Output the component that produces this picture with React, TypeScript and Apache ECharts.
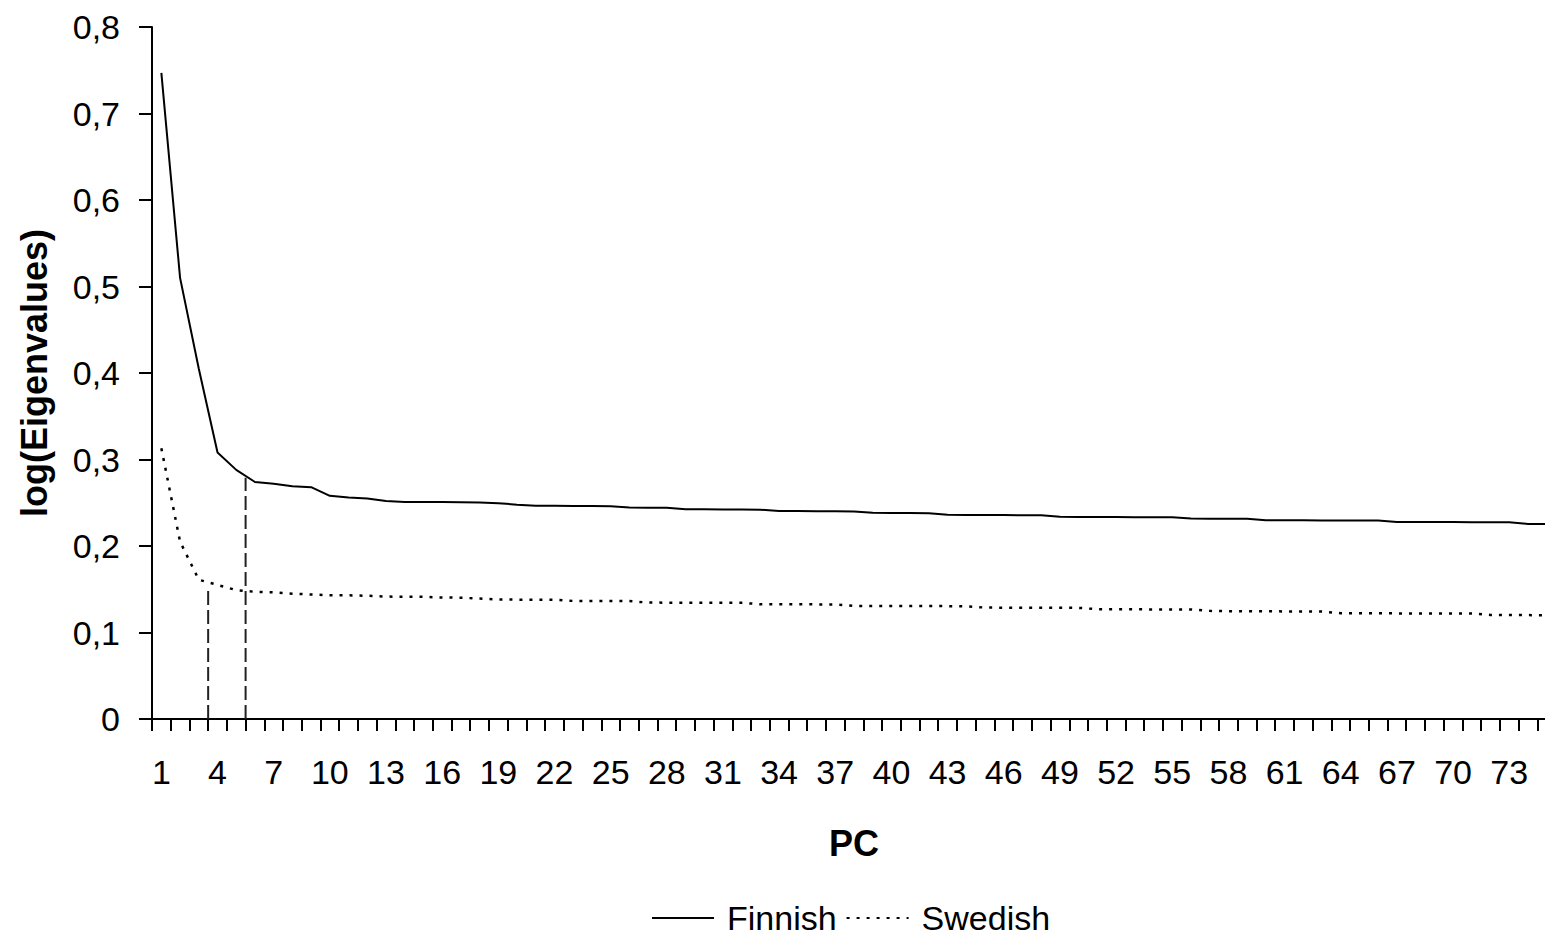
import React, { useEffect, useRef } from "react";
import * as echarts from "echarts";

const pcs: string[] = Array.from({ length: 75 }, (_, i) => String(i + 1));

const finnish: number[] = [
  0.747, 0.51, 0.405, 0.308, 0.288, 0.274, 0.272, 0.269, 0.268, 0.258,
  0.256, 0.255, 0.252, 0.251, 0.251, 0.2508, 0.2505, 0.2502, 0.2495, 0.2478,
  0.2465, 0.2465, 0.2463, 0.2462, 0.246, 0.2445, 0.2443, 0.2442, 0.2425, 0.2424,
  0.2423, 0.2422, 0.242, 0.2405, 0.2404, 0.2403, 0.2402, 0.24, 0.2383, 0.2382,
  0.2381, 0.238, 0.236, 0.2359, 0.2358, 0.2357, 0.2356, 0.2355, 0.2337, 0.2336,
  0.2335, 0.2334, 0.2333, 0.2332, 0.2331, 0.2317, 0.2316, 0.2315, 0.2314, 0.2298,
  0.2297, 0.2297, 0.2296, 0.2296, 0.2295, 0.2295, 0.2278, 0.2278, 0.2277, 0.2277,
  0.2276, 0.2276, 0.2275, 0.2255, 0.2253,
];

const swedish: number[] = [
  0.313, 0.205, 0.161, 0.155, 0.149, 0.147, 0.1465, 0.1448, 0.144, 0.143,
  0.143, 0.1425, 0.1415, 0.1414, 0.1412, 0.1405, 0.1402, 0.1392, 0.1381, 0.138,
  0.138, 0.1379, 0.1365, 0.1364, 0.1364, 0.1363, 0.1346, 0.1345, 0.1345, 0.1344,
  0.1344, 0.1343, 0.1327, 0.1326, 0.1326, 0.1325, 0.1325, 0.1307, 0.1306, 0.1306,
  0.1305, 0.1305, 0.1305, 0.1304, 0.1288, 0.1287, 0.1287, 0.1286, 0.1286, 0.1285,
  0.1269, 0.1268, 0.1268, 0.1267, 0.1267, 0.1266, 0.125, 0.1246, 0.1245, 0.1245,
  0.1244, 0.1244, 0.1243, 0.1223, 0.1222, 0.1222, 0.1221, 0.1221, 0.122, 0.122,
  0.1219, 0.1203, 0.1202, 0.1201, 0.12,
];

// Dashed cut-off markers: [x position (category units), top value]
const cutoffA: number[][] = [[3.5, 0], [3.5, 0.149]];
const cutoffB: number[][] = [[5.5, 0], [5.5, 0.279]];

const FONT = "'Liberation Sans', Arial, sans-serif";

export default function App() {
  const ref = useRef<HTMLDivElement>(null);
  useEffect(() => {
    if (!ref.current) return;
    const chart = echarts.init(ref.current, null, { renderer: "svg" });
    chart.setOption({
      animation: false,
      backgroundColor: "#ffffff",
      textStyle: { fontFamily: FONT, color: "#000" },
      legend: {
        data: ["Finnish", "Swedish"],
        left: 646,
        top: 896,
        itemWidth: 62,
        itemHeight: 20,
        itemGap: 9,
        itemStyle: { opacity: 0, borderWidth: 0 },
        textStyle: {
          fontSize: 34,
          lineHeight: 34,
          color: "#000",
          fontFamily: FONT,
          padding: [0, 0, 0, 8],
        },
      },
      grid: { left: 152, top: 27, width: 1404, height: 692 },
      xAxis: [
        {
          type: "category",
          data: pcs,
          boundaryGap: true,
          name: "PC",
          nameLocation: "middle",
          nameGap: 106,
          nameTextStyle: { fontSize: 36, fontWeight: "bold", color: "#000", fontFamily: FONT },
          axisLine: { lineStyle: { color: "#000", width: 2 } },
          axisTick: { show: true, interval: 0, length: 12, lineStyle: { color: "#000", width: 2 } },
          axisLabel: { interval: 2, margin: 36, fontSize: 34, color: "#000", fontFamily: FONT },
          splitLine: { show: false },
        },
        {
          type: "value",
          min: 0.5,
          max: 75.5,
          show: false,
          splitLine: { show: false },
        },
      ],
      yAxis: {
        type: "value",
        min: 0,
        max: 0.8,
        interval: 0.1,
        name: "log(Eigenvalues)",
        nameLocation: "middle",
        nameGap: 100,
        nameTextStyle: { fontSize: 36, fontWeight: "bold", color: "#000", fontFamily: FONT },
        axisLine: { show: true, lineStyle: { color: "#000", width: 2 } },
        axisTick: { show: true, length: 13, lineStyle: { color: "#000", width: 2 } },
        axisLabel: {
          margin: 32,
          fontSize: 34,
          color: "#000",
          fontFamily: FONT,
          formatter: (v: number) => (v === 0 ? "0" : v.toFixed(1).replace(".", ",")),
        },
        splitLine: { show: false },
      },
      series: [
        {
          name: "Finnish",
          type: "line",
          data: finnish,
          symbol: "none",
          lineStyle: { color: "#000", width: 2, type: "solid" },
          itemStyle: { color: "#000" },
        },
        {
          name: "Swedish",
          type: "line",
          data: swedish,
          symbol: "none",
          lineStyle: { color: "#000", width: 2.5, type: [3, 7] },
          itemStyle: { color: "#000" },
        },
        {
          name: "cutA",
          type: "line",
          xAxisIndex: 1,
          data: cutoffA,
          symbol: "none",
          lineStyle: { color: "#222", width: 2, type: [14, 5] },
        },
        {
          name: "cutB",
          type: "line",
          xAxisIndex: 1,
          data: cutoffB,
          symbol: "none",
          lineStyle: { color: "#222", width: 2, type: [14, 5] },
        },
      ],
    });
    return () => chart.dispose();
  }, []);
  return (
    <div
      style={{ position: "absolute", left: 0, top: 0, width: 1545, height: 939, overflow: "hidden", background: "#fff" }}
    >
      <div ref={ref} style={{ width: 1600, height: 939 }} />
    </div>
  );
}
